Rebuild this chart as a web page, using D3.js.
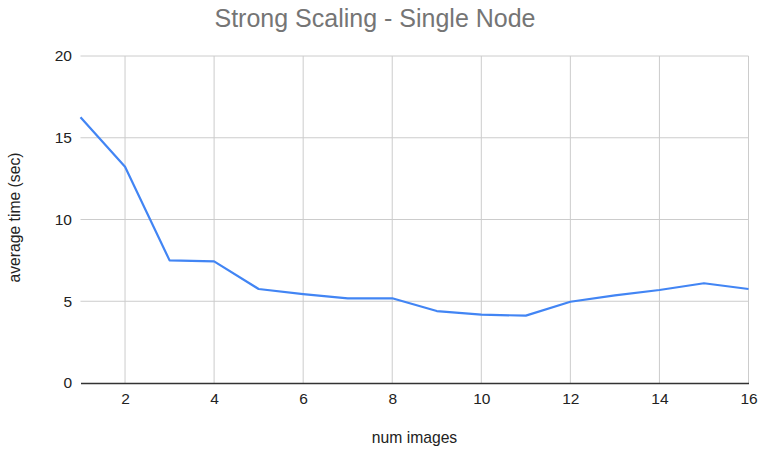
<!DOCTYPE html>
<html><head><meta charset="utf-8">
<script src="https://cdn.jsdelivr.net/npm/d3@7"></script>
<style>body{margin:0;background:#fff;}svg{display:block;font-family:"Liberation Sans",Arial,sans-serif;}</style>
</head><body>
<svg id="c" width="761" height="449"></svg>
<script>
const numImages = [1,2,3,4,5,6,7,8,9,10,11,12,13,14,15,16];
const avgTime = [16.25,13.23,7.5,7.44,5.75,5.44,5.18,5.18,4.4,4.18,4.12,4.97,5.36,5.69,6.1,5.75];
const xTicks = [2,4,6,8,10,12,14,16];
const yTicks = [0,5,10,15,20];
const title = "Strong Scaling - Single Node";
const xLabel = "num images";
const yLabel = "average time (sec)";

const svg = d3.select("#c");
const x = d3.scaleLinear().domain([1,16]).range([80.5,748.5]);
const y = d3.scaleLinear().domain([0,20]).range([383,56]);

// grid
svg.append("g").selectAll("line").data(yTicks.filter(d=>d>0)).join("line")
  .attr("x1",x(1)).attr("x2",x(16)).attr("y1",d=>y(d)).attr("y2",d=>y(d))
  .attr("stroke","#cccccc").attr("stroke-width",1);
svg.append("g").selectAll("line").data(xTicks).join("line")
  .attr("x1",d=>x(d)).attr("x2",d=>x(d)).attr("y1",y(20)).attr("y2",y(0))
  .attr("stroke","#cccccc").attr("stroke-width",1);

// y tick labels
svg.append("g").selectAll("text").data(yTicks).join("text")
  .attr("x",72).attr("y",d=>y(d)).attr("dy","0.35em")
  .attr("text-anchor","end").attr("font-size",15.5).attr("fill","#222")
  .text(d=>d);

// x axis
const xAxis = d3.axisBottom(x).tickValues(xTicks).tickSize(0).tickPadding(10);
const gx = svg.append("g").attr("transform",`translate(0,${y(0)})`).call(xAxis);
gx.select(".domain").attr("stroke","#333").attr("stroke-width",1.5);
gx.selectAll("text").attr("font-size",15.5).attr("fill","#222").attr("font-family","'Liberation Sans',Arial,sans-serif");

// line
svg.append("path").datum(numImages.map((d,i)=>[d,avgTime[i]]))
  .attr("fill","none").attr("stroke","#4285f4").attr("stroke-width",2.2)
  .attr("stroke-linejoin","round")
  .attr("d",d3.line().x(d=>x(d[0])).y(d=>y(d[1])));

// title
svg.append("text").attr("x",375).attr("y",27).attr("text-anchor","middle")
  .attr("font-size",25).attr("fill","#757575").text(title);
svg.append("text").attr("x",414.5).attr("y",443).attr("text-anchor","middle")
  .attr("font-size",15.7).attr("fill","#222").text(xLabel);
svg.append("text").attr("transform","translate(20,217.5) rotate(-90)").attr("text-anchor","middle")
  .attr("font-size",15.7).attr("fill","#222").text(yLabel);
</script>
</body></html>
